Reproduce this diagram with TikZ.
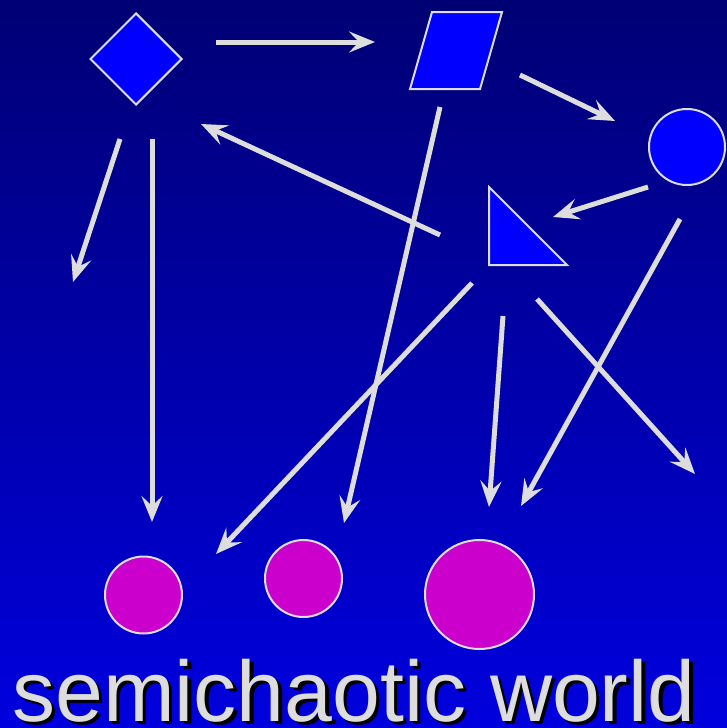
\documentclass[tikz,border=0pt]{standalone}
\usepackage{fontspec}
\setmainfont{Liberation Sans}
\usetikzlibrary{arrows.meta,shapes.geometric}
\definecolor{edgegray}{HTML}{DDDDDD}
\definecolor{bgtop}{HTML}{000074}
\definecolor{bgbot}{HTML}{0000DE}
\definecolor{shapeblue}{HTML}{0000FF}
\definecolor{ballmag}{HTML}{CC00CC}
\begin{document}
\begin{tikzpicture}[x=1pt,y=-1pt,
  shapeline/.style={draw=edgegray,line width=2pt,fill=shapeblue,line join=miter},
  ball/.style={circle,draw=edgegray,line width=2pt,fill=ballmag,inner sep=0pt,outer sep=0pt},
  conn/.style={draw=edgegray,line width=5pt,-{Stealth[length=26pt,width=21pt,inset=10pt]}}]
\useasboundingbox (0,0) rectangle (727,728);
\shade[top color=bgtop,bottom color=bgbot] (0,0) rectangle (727,728);
% shapes
\node[diamond,shapeline,inner sep=0pt,minimum width=92pt,minimum height=92pt] (dia) at (136,59) {};
\draw[shapeline] (432,12) -- (502,12) -- (480,89) -- (410,89) -- cycle;
\coordinate (para) at (456,50);
\node[circle,shapeline,inner sep=0pt,minimum size=76pt] (circ) at (687,147) {};
\draw[shapeline] (489,187) -- (567,265) -- (489,265) -- cycle;
\coordinate (tri) at (515,239);
\node[ball,minimum size=77pt] (b1) at (143.5,595) {};
\node[ball,minimum size=77pt] (b2) at (303.5,578.5) {};
\node[ball,minimum size=109pt] (b3) at (479.5,594.5) {};
% connector endpoints
\coordinate (a1s) at (216,42);  \coordinate (a1e) at (375,42);
\coordinate (a2s) at (520,75);  \coordinate (a2e) at (615,121);
\coordinate (a3s) at (648,187); \coordinate (a3e) at (553,217);
\coordinate (a4s) at (440,235); \coordinate (a4e) at (201,124);
\coordinate (a5s) at (120,139); \coordinate (a5e) at (73,282);
\coordinate (a6s) at (152,139); \coordinate (a6e) at (152,522);
\coordinate (a7s) at (440,107); \coordinate (a7e) at (344,523);
\coordinate (a8s) at (472,283); \coordinate (a8e) at (216,554);
\coordinate (a9s) at (503,316); \coordinate (a9e) at (489,507);
\coordinate (a10s) at (537,299); \coordinate (a10e) at (695,474);
\coordinate (a11s) at (680,219); \coordinate (a11e) at (521,506);
\foreach \i in {1,...,11} \draw[conn] (a\i s) -- (a\i e);
% title
\node[anchor=base west,inner sep=0pt,text=black,font=\fontsize{86}{86}\selectfont] (shadow) at (15.5,724.5) {semichaotic world};
\node[anchor=base west,inner sep=0pt,text=edgegray,font=\fontsize{86}{86}\selectfont] (title) at (12,721) {semichaotic world};
\end{tikzpicture}
\end{document}
